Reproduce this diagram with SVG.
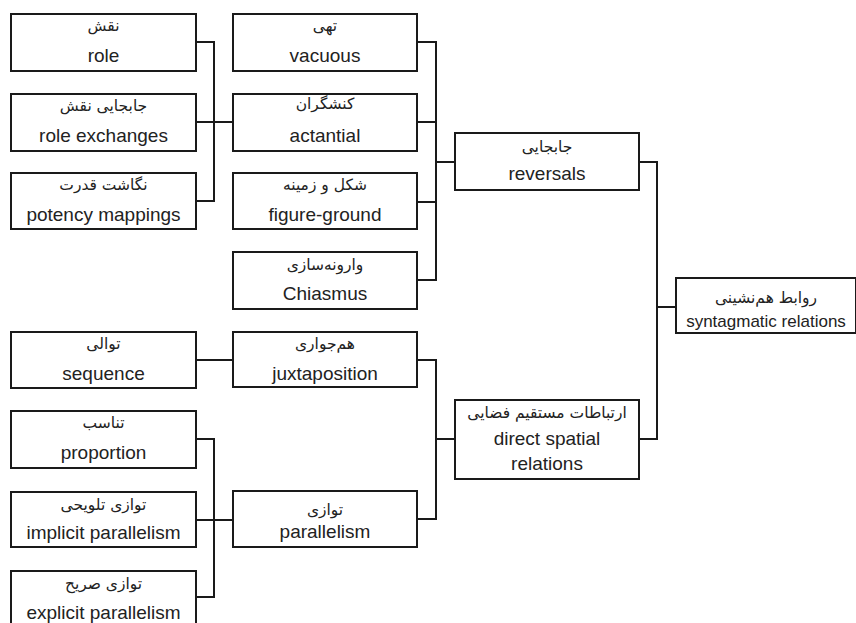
<svg xmlns="http://www.w3.org/2000/svg" width="856" height="623" viewBox="0 0 856 623">
<style>
.box{fill:#fff;stroke:#1a1a1a;stroke-width:2}
.con{fill:none;stroke:#1a1a1a;stroke-width:2}
.fa{font-family:"DejaVu Sans",sans-serif;font-size:15.5px;fill:#222;text-anchor:middle}
.en{font-family:"Liberation Sans",Arial,sans-serif;font-size:19px;fill:#222;text-anchor:middle}
.en2{font-family:"Liberation Sans",Arial,sans-serif;font-size:17px;fill:#222;text-anchor:middle}
</style>
<rect width="856" height="623" fill="#fff"/>
<g id="connectors">
<path class="con" d="M196 42H214V201H196M196 122H233"/>
<path class="con" d="M417 42H436V280H417M417 122H436M417 202H436M436 162H455"/>
<path class="con" d="M196 360H233"/>
<path class="con" d="M196 439H214V597H196M196 520H233"/>
<path class="con" d="M417 360H436V519H417M436 439H455"/>
<path class="con" d="M639 162H657V439H639M657 307H676"/>
</g>
<g id="n-role"><rect class="box" x="11" y="14" width="185" height="57"/><text class="fa" x="103.5" y="31">نقش</text><text class="en" x="103.5" y="62">role</text></g>
<g id="n-role-exchanges"><rect class="box" x="11" y="94" width="185" height="57"/><text class="fa" x="103.5" y="111">جابجایی نقش</text><text class="en" x="103.5" y="142">role exchanges</text></g>
<g id="n-potency"><rect class="box" x="11" y="173" width="185" height="56"/><text class="fa" x="103.5" y="190">نگاشت قدرت</text><text class="en" x="103.5" y="221">potency mappings</text></g>
<g id="n-vacuous"><rect class="box" x="233" y="14" width="184" height="57"/><text class="fa" x="325" y="31">تهی</text><text class="en" x="325" y="62">vacuous</text></g>
<g id="n-actantial"><rect class="box" x="233" y="94" width="184" height="57"/><text class="fa" x="325" y="109">کنشگران</text><text class="en" x="325" y="142">actantial</text></g>
<g id="n-figure-ground"><rect class="box" x="233" y="173" width="184" height="56"/><text class="fa" x="325" y="190">شکل و زمینه</text><text class="en" x="325" y="221">figure-ground</text></g>
<g id="n-chiasmus"><rect class="box" x="233" y="252" width="184" height="57"/><text class="fa" x="325" y="270">وارونه‌سازی</text><text class="en" x="325" y="300">Chiasmus</text></g>
<g id="n-reversals"><rect class="box" x="455" y="133" width="184" height="57"/><text class="fa" x="547" y="152">جابجایی</text><text class="en" x="547" y="180">reversals</text></g>
<g id="n-syntagmatic"><rect class="box" x="676" y="278" width="180" height="55"/><text class="fa" x="766" y="303">روابط هم‌نشینی</text><text class="en2" x="766" y="327">syntagmatic relations</text></g>
<g id="n-sequence"><rect class="box" x="11" y="332" width="185" height="56"/><text class="fa" x="103.5" y="349">توالی</text><text class="en" x="103.5" y="380">sequence</text></g>
<g id="n-juxtaposition"><rect class="box" x="233" y="332" width="184" height="55"/><text class="fa" x="325" y="349">هم‌جواری</text><text class="en" x="325" y="380">juxtaposition</text></g>
<g id="n-direct-spatial"><rect class="box" x="455" y="400" width="184" height="79"/><text class="fa" x="547" y="418">ارتباطات مستقیم فضایی</text><text class="en" x="547" y="445">direct spatial</text><text class="en" x="547" y="470">relations</text></g>
<g id="n-proportion"><rect class="box" x="11" y="411" width="185" height="57"/><text class="fa" x="103.5" y="428">تناسب</text><text class="en" x="103.5" y="459">proportion</text></g>
<g id="n-implicit"><rect class="box" x="11" y="492" width="185" height="55"/><text class="fa" x="103.5" y="510">توازی تلویحی</text><text class="en" x="103.5" y="539">implicit parallelism</text></g>
<g id="n-parallelism"><rect class="box" x="233" y="491" width="184" height="56"/><text class="fa" x="325" y="515">توازی</text><text class="en" x="325" y="538">parallelism</text></g>
<g id="n-explicit"><rect class="box" x="11" y="571" width="185" height="60"/><text class="fa" x="103.5" y="589">توازی صریح</text><text class="en" x="103.5" y="619">explicit parallelism</text></g>
</svg>
